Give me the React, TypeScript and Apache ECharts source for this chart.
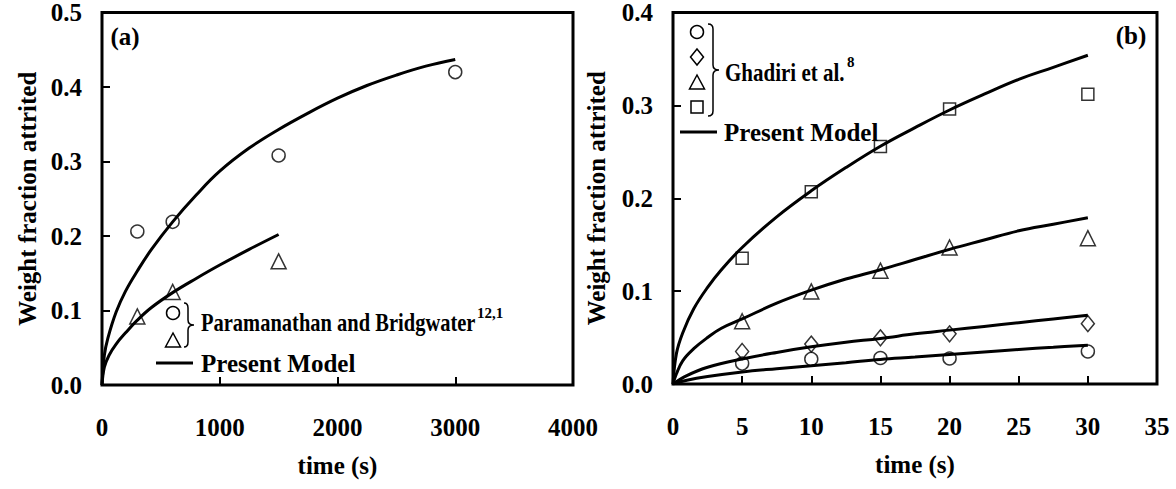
import React, { useEffect, useRef } from "react";
import * as echarts from "echarts";

// ---------- Panel (a) data ----------
const aXTicks = [0, 1000, 2000, 3000, 4000];
const aCircleT = [300, 600, 1500, 3000];
const aCircleW = [0.206, 0.219, 0.308, 0.42];
const aTriT = [300, 600, 1500];
const aTriW = [0.092, 0.125, 0.166];
const aModelHighT = [0, 20, 50, 120, 200, 300, 420, 600, 800, 1000, 1250, 1500, 1750, 2000, 2250, 2500, 2750, 3000];
const aModelHighW = [0, 0.04, 0.063, 0.098, 0.126, 0.153, 0.182, 0.219, 0.255, 0.287, 0.318, 0.343, 0.365, 0.385, 0.402, 0.416, 0.428, 0.437];
const aModelLowT = [0, 20, 60, 120, 200, 300, 420, 600, 800, 1000, 1250, 1500];
const aModelLowW = [0, 0.024, 0.04, 0.055, 0.07, 0.087, 0.104, 0.124, 0.143, 0.161, 0.182, 0.202];

// ---------- Panel (b) data ----------
const bT = [5, 10, 15, 20, 30];
const bCircleW = [0.022, 0.027, 0.028, 0.0275, 0.035];
const bDiamondW = [0.035, 0.043, 0.0497, 0.054, 0.065];
const bTriW = [0.0676, 0.0997, 0.122, 0.147, 0.157];
const bSquareW = [0.1355, 0.207, 0.2556, 0.296, 0.312];

const bModelSqT = [0, 0.25, 0.7, 1.5, 2.5, 3.5, 5, 7.5, 10, 12.5, 15, 17.5, 20, 22.5, 25, 27.5, 30];
const bModelSqW = [0, 0.033, 0.055, 0.081, 0.104, 0.123, 0.147, 0.18, 0.208, 0.233, 0.256, 0.276, 0.295, 0.312, 0.328, 0.341, 0.354];
const bModelTriT = [0, 0.25, 0.7, 1.5, 2.5, 3.5, 5, 7.5, 10, 12.5, 15, 17.5, 20, 22.5, 25, 27.5, 30];
const bModelTriW = [0, 0.011, 0.025, 0.038, 0.05, 0.06, 0.07, 0.087, 0.101, 0.113, 0.123, 0.134, 0.145, 0.155, 0.165, 0.172, 0.179];
const bModelDiaT = [0, 1, 2.5, 5, 7.5, 10, 12.5, 15, 17.5, 20, 22.5, 25, 27.5, 30];
const bModelDiaW = [0, 0.009, 0.018, 0.027, 0.034, 0.04, 0.045, 0.049, 0.054, 0.058, 0.062, 0.066, 0.07, 0.074];
const bModelCirT = [0, 1, 2.5, 5, 7.5, 10, 12.5, 15, 17.5, 20, 22.5, 25, 27.5, 30];
const bModelCirW = [0, 0.004, 0.008, 0.013, 0.0165, 0.0197, 0.023, 0.0265, 0.029, 0.0318, 0.0345, 0.0372, 0.0395, 0.0418];

const zip = (xs: number[], ys: number[]) => xs.map((x, i) => [x, ys[i]]);

const FONT_FAMILY = "'Liberation Serif', 'Times New Roman', serif";
const font = (size: number) => `bold ${size}px ${FONT_FAMILY}`;

function bracePath(L: number, V: number, T: number, top: number, bot: number) {
  const m = (top + bot) / 2;
  const r = 5;
  return `M${L},${top} Q${V},${top} ${V},${top + r} L${V},${m - r} Q${V},${m} ${T},${m} Q${V},${m} ${V},${m + r} L${V},${bot - r} Q${V},${bot} ${L},${bot}`;
}

echarts.graphic.registerShape("braceA", echarts.graphic.extendPath(bracePath(184, 188, 194, 303, 347), {}));
echarts.graphic.registerShape("braceB", echarts.graphic.extendPath(bracePath(708, 713, 719, 24, 116), {}));

const markerStyle = { color: "rgba(0,0,0,0)", borderColor: "#000", borderWidth: 1.5 };

function scatter(name: string, xi: number, data: number[][], symbol: string, size: any) {
  return {
    type: "scatter",
    name,
    xAxisIndex: xi,
    yAxisIndex: xi,
    data,
    symbol,
    symbolSize: size,
    itemStyle: markerStyle,
    z: 3,
  };
}
function model(name: string, xi: number, data: number[][]) {
  return {
    type: "line",
    name,
    xAxisIndex: xi,
    yAxisIndex: xi,
    data,
    showSymbol: false,
    symbol: "none",
    smooth: 0.4,
    lineStyle: { color: "#000", width: 3 },
    z: 2,
  };
}

const axisLabel = (fmt: (v: number) => string, margin = 20) => ({
  color: "#000",
  fontFamily: FONT_FAMILY,
  fontWeight: "bold",
  fontSize: 25,
  margin,
  formatter: fmt,
});

export default function App() {
  const ref = useRef<HTMLDivElement>(null);
  useEffect(() => {
    if (!ref.current) return;
    const chart = echarts.init(ref.current, null, { renderer: "svg" });
    const yFmt = (v: number) => v.toFixed(1);
    const xFmt = (v: number) => String(v);
    const nameStyle = { color: "#000", fontFamily: FONT_FAMILY, fontWeight: "bold", fontSize: 25 };
    const tickStyle = { show: true, inside: true, length: 8, lineStyle: { color: "#000", width: 2 } };
    const option: any = {
      animation: false,
      backgroundColor: "#fff",
      grid: [
        { left: 102, top: 12.5, width: 471, height: 372.5, show: true, borderColor: "#000", borderWidth: 3, backgroundColor: "transparent" },
        { left: 673, top: 12.5, width: 484, height: 371.5, show: true, borderColor: "#000", borderWidth: 3, backgroundColor: "transparent" },
      ],
      xAxis: [
        {
          type: "value", gridIndex: 0, min: aXTicks[0], max: aXTicks[aXTicks.length - 1], interval: 1000,
          axisLine: { show: false }, axisTick: tickStyle, splitLine: { show: false },
          axisLabel: axisLabel(xFmt, 30),
          name: "time (s)", nameLocation: "middle", nameGap: 68, nameTextStyle: nameStyle,
        },
        {
          type: "value", gridIndex: 1, min: 0, max: 35, interval: 5,
          axisLine: { show: false }, axisTick: tickStyle, splitLine: { show: false },
          axisLabel: axisLabel(xFmt, 30),
          name: "time (s)", nameLocation: "middle", nameGap: 68, nameTextStyle: nameStyle,
        },
      ],
      yAxis: [
        {
          type: "value", gridIndex: 0, min: 0, max: 0.5, interval: 0.1,
          axisLine: { show: false }, axisTick: tickStyle, splitLine: { show: false },
          axisLabel: axisLabel(yFmt, 20),
          name: "Weight fraction attrited", nameLocation: "middle", nameGap: 62, nameRotate: 90, nameTextStyle: nameStyle,
        },
        {
          type: "value", gridIndex: 1, min: 0, max: 0.4, interval: 0.1,
          axisLine: { show: false }, axisTick: tickStyle, splitLine: { show: false },
          axisLabel: axisLabel(yFmt, 20),
          name: "Weight fraction attrited", nameLocation: "middle", nameGap: 64, nameRotate: 90, nameTextStyle: nameStyle,
        },
      ],
      series: [
        model("Present Model (a) upper", 0, zip(aModelHighT, aModelHighW)),
        model("Present Model (a) lower", 0, zip(aModelLowT, aModelLowW)),
        scatter("Paramanathan and Bridgwater (○)", 0, zip(aCircleT, aCircleW), "circle", 13),
        scatter("Paramanathan and Bridgwater (△)", 0, zip(aTriT, aTriW), "triangle", 15),
        model("Present Model (b) □", 1, zip(bModelSqT, bModelSqW)),
        model("Present Model (b) △", 1, zip(bModelTriT, bModelTriW)),
        model("Present Model (b) ◇", 1, zip(bModelDiaT, bModelDiaW)),
        model("Present Model (b) ○", 1, zip(bModelCirT, bModelCirW)),
        scatter("Ghadiri ○", 1, zip(bT, bCircleW), "circle", 13),
        scatter("Ghadiri ◇", 1, zip(bT, bDiamondW), "diamond", [13, 16]),
        scatter("Ghadiri △", 1, zip(bT, bTriW), "triangle", 15),
        scatter("Ghadiri □", 1, zip(bT, bSquareW), "rect", 12),
      ],
      graphic: [
        // panel labels
        { type: "text", x: 125, y: 36, style: { text: "(a)", font: font(25), fill: "#000", align: "center", verticalAlign: "middle", textAlign: "center", textVerticalAlign: "middle" } },
        { type: "text", x: 1131, y: 35, style: { text: "(b)", font: font(25), fill: "#000", align: "center", verticalAlign: "middle", textAlign: "center", textVerticalAlign: "middle" } },
        // legend (a)
        { type: "circle", shape: { cx: 173, cy: 313, r: 6.5 }, style: { fill: "none", stroke: "#000", lineWidth: 1.5 } },
        { type: "polygon", shape: { points: [[173, 333], [165.5, 347], [180.5, 347]] }, style: { fill: "none", stroke: "#000", lineWidth: 1.5 } },
        { type: "braceA", style: { fill: "none", stroke: "#000", lineWidth: 1.5 } },
        { type: "text", x: 201, y: 323, scaleX: 0.82, style: { text: "Paramanathan and Bridgwater", font: font(25), fill: "#000", align: "left", verticalAlign: "middle", textAlign: "left", textVerticalAlign: "middle" } },
        { type: "text", x: 477, y: 313, style: { text: "12,1", font: font(15), fill: "#000", align: "left", verticalAlign: "middle", textAlign: "left", textVerticalAlign: "middle" } },
        { type: "line", shape: { x1: 156, y1: 363, x2: 193, y2: 363 }, style: { stroke: "#000", lineWidth: 3 } },
        { type: "text", x: 201, y: 363, style: { text: "Present Model", font: font(25), fill: "#000", align: "left", verticalAlign: "middle", textAlign: "left", textVerticalAlign: "middle" } },
        // legend (b)
        { type: "circle", shape: { cx: 697, cy: 32, r: 6.5 }, style: { fill: "none", stroke: "#000", lineWidth: 1.5 } },
        { type: "polygon", shape: { points: [[697, 49], [703.5, 57], [697, 65], [690.5, 57]] }, style: { fill: "none", stroke: "#000", lineWidth: 1.5 } },
        { type: "polygon", shape: { points: [[697, 75], [689.5, 89], [704.5, 89]] }, style: { fill: "none", stroke: "#000", lineWidth: 1.5 } },
        { type: "rect", shape: { x: 691, y: 101, width: 12, height: 12 }, style: { fill: "none", stroke: "#000", lineWidth: 1.5 } },
        { type: "braceB", style: { fill: "none", stroke: "#000", lineWidth: 1.5 } },
        { type: "text", x: 725, y: 72, scaleX: 0.84, style: { text: "Ghadiri et al.", font: font(25), fill: "#000", align: "left", verticalAlign: "middle", textAlign: "left", textVerticalAlign: "middle" } },
        { type: "text", x: 847, y: 62, style: { text: "8", font: font(15), fill: "#000", align: "left", verticalAlign: "middle", textAlign: "left", textVerticalAlign: "middle" } },
        { type: "line", shape: { x1: 680, y1: 132, x2: 717, y2: 132 }, style: { stroke: "#000", lineWidth: 3 } },
        { type: "text", x: 724, y: 132, style: { text: "Present Model", font: font(25), fill: "#000", align: "left", verticalAlign: "middle", textAlign: "left", textVerticalAlign: "middle" } },
      ],
    };
    chart.setOption(option);
    return () => chart.dispose();
  }, []);
  return <div ref={ref} style={{ position: "fixed", left: 0, top: 0, width: 1176, height: 489 }} />;
}
